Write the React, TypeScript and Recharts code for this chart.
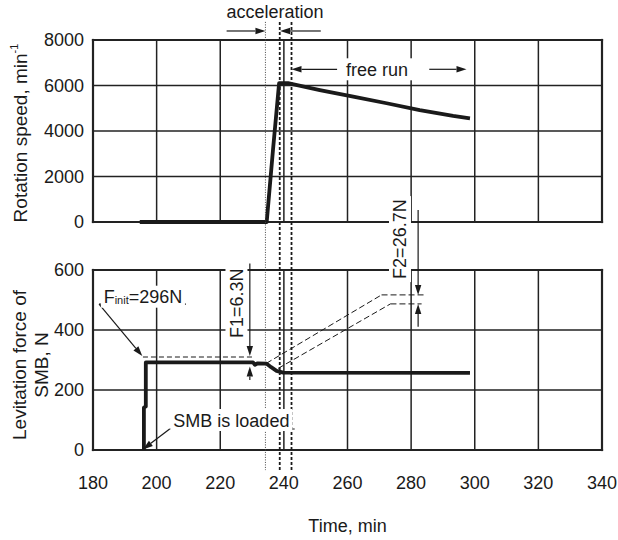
import React from 'react'
import {
  LineChart, Line, XAxis, YAxis,
  ReferenceLine, ReferenceDot,
} from 'recharts'

const FONT = '"Liberation Sans", Arial, Helvetica, sans-serif'
const INK = '#1a1a1a'

const timeTicks = [180, 200, 220, 240, 260, 280, 300, 320, 340]
const speedTicks = [0, 2000, 4000, 6000, 8000]
const forceTicks = [0, 200, 400, 600]

// upper panel: rotation speed (min^-1)
const speedTime = [194.7, 234.6, 236.6, 238.5, 241.3, 251.3, 261.8, 272.3, 282.7, 293.2, 298.5]
const speedRpm = [0, 0, 3200, 6100, 6100, 5800, 5510, 5220, 4920, 4660, 4560]

// lower panel: levitation force (N)
const forceTime = [196.0, 196.0, 196.6, 196.6, 230.3, 230.9, 231.8, 234.5, 236.0, 237.7, 239.8, 298.5]
const forceN = [0, 141, 145, 292, 292, 284, 289, 288, 276, 264, 258, 257]

// vertical phase markers (start / end of acceleration)
const phaseTimes = [234.2, 238.7, 242.4]

const speedData = speedTime.map((t, i) => ({ t, v: speedRpm[i] }))
const forceData = forceTime.map((t, i) => ({ t, v: forceN[i] }))

const arrowShape = (p: any) => {
  const { x1, y1, x2, y2 } = p
  const dx = x2 - x1
  const dy = y2 - y1
  const len = Math.hypot(dx, dy) || 1
  const ux = dx / len
  const uy = dy / len
  const hl = 10
  const hw = 3.2
  const bx = x2 - ux * hl
  const by = y2 - uy * hl
  return (
    <g>
      <line x1={x1} y1={y1} x2={bx} y2={by} stroke={INK} strokeWidth={1.2} />
      <polygon
        points={`${x2},${y2} ${bx - uy * hw},${by + ux * hw} ${bx + uy * hw},${by - ux * hw}`}
        fill={INK}
      />
    </g>
  )
}

const gridShape = (w: number) => (p: any) => (
  <line x1={p.x1} y1={p.y1} x2={p.x2} y2={p.y2} stroke="#222" strokeWidth={w} strokeLinecap="square" />
)

const note = (text: string, opts: { rotate?: boolean; bg?: boolean; w?: number } = {}) => (p: any) => {
  const { cx, cy } = p
  const w = opts.w ?? text.length * 9.6 + 6
  const h = 22
  return (
    <g transform={opts.rotate ? `rotate(-90 ${cx} ${cy})` : undefined}>
      {opts.bg && <rect x={cx - w / 2} y={cy - h / 2} width={w} height={h} fill="#fff" />}
      <text x={cx} y={cy + 6.5} textAnchor="middle" fontFamily={FONT} fontSize={18} fill={INK}>
        {text}
      </text>
    </g>
  )
}

const finitNote = (p: any) => {
  const { cx, cy } = p
  return (
    <g>
      <rect x={cx - 42} y={cy - 11} width={84} height={22} fill="#fff" />
      <text x={cx} y={cy + 6.5} textAnchor="middle" fontFamily={FONT} fontSize={18} fill={INK}>
        <tspan>F</tspan>
        <tspan fontSize={11} dy={1}>init</tspan>
        <tspan dy={-1}>=296N</tspan>
      </text>
    </g>
  )
}

const SpeedTitle = (p: any) => {
  const vb = p.viewBox || { x: 0, y: 40, width: 93, height: 182 }
  const cx = vb.x + 20
  const cy = vb.y + vb.height / 2 + 2
  return (
    <text transform={`rotate(-90 ${cx} ${cy})`} x={cx} y={cy + 6.5} textAnchor="middle"
      fontFamily={FONT} fontSize={19} fill={INK}>
      Rotation speed, min<tspan fontSize={11} dy={-9}>-1</tspan>
    </text>
  )
}

const ForceTitle = (p: any) => {
  const vb = p.viewBox || { x: 0, y: 270, width: 93, height: 180 }
  const cy = vb.y + vb.height / 2 + 5
  const x1 = vb.x + 19
  const x2 = vb.x + 41
  return (
    <g fontFamily={FONT} fontSize={19} fill={INK}>
      <text transform={`rotate(-90 ${x1} ${cy})`} x={x1} y={cy + 6.5} textAnchor="middle">
        Levitation force of
      </text>
      <text transform={`rotate(-90 ${x2} ${cy})`} x={x2} y={cy + 6.5} textAnchor="middle">
        SMB, N
      </text>
    </g>
  )
}

const TimeTitle = (p: any) => {
  const vb = p.viewBox || { x: 93, y: 450, width: 509, height: 90 }
  return (
    <text x={vb.x + vb.width / 2} y={532} textAnchor="middle" fontFamily={FONT} fontSize={18} fill={INK}>
      Time, min
    </text>
  )
}

const tickStyle = { fontFamily: FONT, fontSize: 18, fill: INK }

// grid at every tick, heavier frame at the domain edges
const frame = (yTicks: number[]) => {
  const x0 = timeTicks[0]
  const x1 = timeTicks[timeTicks.length - 1]
  const y0 = yTicks[0]
  const y1 = yTicks[yTicks.length - 1]
  return [
    ...timeTicks.map((t) => (
      <ReferenceLine key={`gx${t}`} segment={[{ x: t, y: y0 }, { x: t, y: y1 }]} ifOverflow="visible"
        shape={gridShape(t === x0 || t === x1 ? 2.2 : 1.5)} />
    )),
    ...yTicks.map((v) => (
      <ReferenceLine key={`gy${v}`} segment={[{ x: x0, y: v }, { x: x1, y: v }]} ifOverflow="visible"
        shape={gridShape(v === y0 || v === y1 ? 2.2 : 1.5)} />
    )),
  ]
}

export default function App() {
  return (
    <div style={{ position: 'absolute', left: 0, top: 0, width: 618, height: 540, background: '#fff' }}>
      <div style={{ position: 'absolute', left: 0, top: 0 }}>
        <LineChart width={618} height={240} data={speedData} margin={{ top: 40, right: 16, bottom: 18, left: 0 }}>
          <XAxis dataKey="t" type="number" domain={[180, 340]} ticks={timeTicks} hide />
          <YAxis
            type="number" domain={[0, 8000]} ticks={speedTicks} width={93}
            tickLine={false} axisLine={false} tickSize={0} tickMargin={9}
            tick={tickStyle} label={<SpeedTitle />}
          />
          {frame(speedTicks)}
          <Line type="linear" dataKey="v" stroke={INK} strokeWidth={3.8} dot={false} isAnimationActive={false} strokeLinejoin="round" />
          {/* acceleration */}
          <ReferenceLine segment={[{ x: 222.0, y: 8396 }, { x: 234.2, y: 8396 }]} ifOverflow="visible" shape={arrowShape} />
          <ReferenceLine segment={[{ x: 251.6, y: 8396 }, { x: 238.8, y: 8396 }]} ifOverflow="visible" shape={arrowShape} />
          <ReferenceDot x={237.2} y={9231} r={0} ifOverflow="visible" shape={note('acceleration')} />
          {/* free run */}
          <ReferenceLine segment={[{ x: 257.6, y: 6712 }, { x: 242.4, y: 6712 }]} ifOverflow="visible" shape={arrowShape} />
          <ReferenceLine segment={[{ x: 285.7, y: 6712 }, { x: 297.4, y: 6712 }]} ifOverflow="visible" shape={arrowShape} />
          <ReferenceDot x={269.3} y={6712} r={0} ifOverflow="visible" shape={note('free run', { bg: true, w: 80 })} />
        </LineChart>
      </div>
      <div style={{ position: 'absolute', left: 0, top: 0 }}>
        <LineChart width={618} height={540} data={forceData} margin={{ top: 270, right: 16, bottom: 0, left: 0 }}>
          <XAxis
            dataKey="t" type="number" domain={[180, 340]} ticks={timeTicks} height={90}
            tickLine={false} axisLine={false} tickSize={0} tickMargin={26}
            tick={tickStyle} label={<TimeTitle />}
          />
          <YAxis
            type="number" domain={[0, 600]} ticks={forceTicks} width={93}
            tickLine={false} axisLine={false} tickSize={0} tickMargin={9}
            tick={tickStyle} label={<ForceTitle />}
          />
          {frame(forceTicks)}
          {/* phase markers spanning both panels */}
          <ReferenceLine segment={[{ x: phaseTimes[0], y: 1427 }, { x: phaseTimes[0], y: -67 }]} ifOverflow="visible"
            stroke="#444" strokeWidth={1} strokeDasharray="1 1.5" />
          <ReferenceLine segment={[{ x: phaseTimes[1], y: 1427 }, { x: phaseTimes[1], y: -67 }]} ifOverflow="visible"
            stroke={INK} strokeWidth={1.8} strokeDasharray="3 2" />
          <ReferenceLine segment={[{ x: phaseTimes[2], y: 1427 }, { x: phaseTimes[2], y: -67 }]} ifOverflow="visible"
            stroke={INK} strokeWidth={1.8} strokeDasharray="3 2" />
          {/* reference levels */}
          <ReferenceLine segment={[{ x: 195.7, y: 310 }, { x: 230.3, y: 310 }]} ifOverflow="visible" stroke={INK} strokeWidth={1} strokeDasharray="5 3" />
          <ReferenceLine segment={[{ x: 234.5, y: 289 }, { x: 270.7, y: 517 }]} ifOverflow="visible" stroke={INK} strokeWidth={1} strokeDasharray="6 3" />
          <ReferenceLine segment={[{ x: 270.7, y: 517 }, { x: 284.3, y: 517 }]} ifOverflow="visible" stroke={INK} strokeWidth={1} strokeDasharray="6 3" />
          <ReferenceLine segment={[{ x: 238.2, y: 272 }, { x: 273.5, y: 487 }]} ifOverflow="visible" stroke={INK} strokeWidth={1} strokeDasharray="6 3" />
          <ReferenceLine segment={[{ x: 273.5, y: 487 }, { x: 283.3, y: 487 }]} ifOverflow="visible" stroke={INK} strokeWidth={1} strokeDasharray="6 3" />
          <Line type="linear" dataKey="v" stroke={INK} strokeWidth={3.8} dot={false} isAnimationActive={false} strokeLinejoin="round" />
          {/* F init */}
          <ReferenceDot x={195.7} y={511} r={0} ifOverflow="visible" shape={finitNote} />
          <ReferenceLine segment={[{ x: 181.9, y: 486 }, { x: 209.2, y: 486 }]} ifOverflow="visible" stroke={INK} strokeWidth={1.2} />
          <ReferenceLine segment={[{ x: 181.9, y: 486 }, { x: 195.5, y: 313 }]} ifOverflow="visible" shape={arrowShape} />
          {/* SMB is loaded */}
          <ReferenceDot x={223.5} y={100} r={0} ifOverflow="visible" shape={note('SMB is loaded', { bg: true, w: 122 })} />
          <ReferenceLine segment={[{ x: 204.1, y: 70 }, { x: 243.4, y: 70 }]} ifOverflow="visible" stroke={INK} strokeWidth={1.2} />
          <ReferenceLine segment={[{ x: 204.1, y: 70 }, { x: 195.7, y: 2 }]} ifOverflow="visible" shape={arrowShape} />
          {/* F1 */}
          <ReferenceDot x={225.1} y={489} r={0} ifOverflow="visible" shape={note('F1=6.3N', { rotate: true, bg: true, w: 76 })} />
          <ReferenceLine segment={[{ x: 229.3, y: 622 }, { x: 229.3, y: 313 }]} ifOverflow="visible" shape={arrowShape} />
          <ReferenceLine segment={[{ x: 229.3, y: 233 }, { x: 229.3, y: 278 }]} ifOverflow="visible" shape={arrowShape} />
          {/* F2 */}
          <ReferenceDot x={276.5} y={703} r={0} ifOverflow="visible" shape={note('F2=26.7N', { rotate: true, bg: true, w: 86 })} />
          <ReferenceLine segment={[{ x: 282.2, y: 800 }, { x: 282.2, y: 517 }]} ifOverflow="visible" shape={arrowShape} />
          <ReferenceLine segment={[{ x: 282.2, y: 411 }, { x: 282.2, y: 487 }]} ifOverflow="visible" shape={arrowShape} />
        </LineChart>
      </div>
    </div>
  )
}
